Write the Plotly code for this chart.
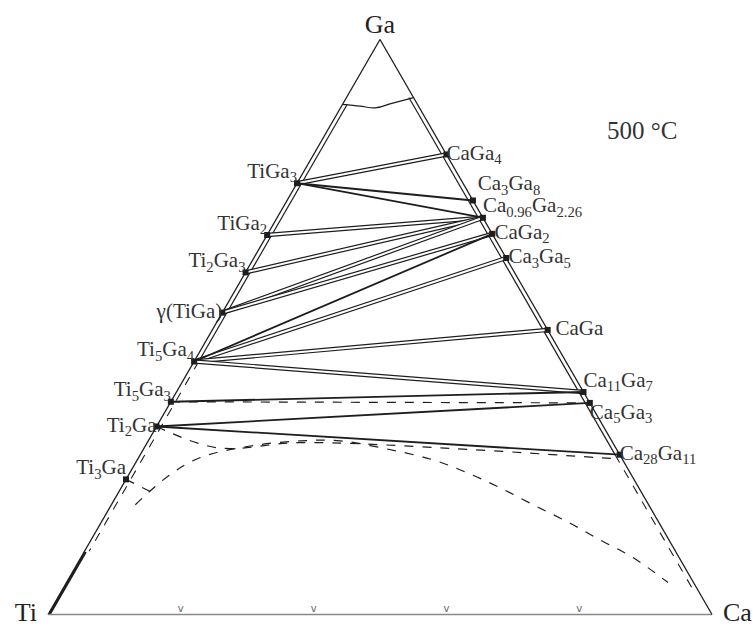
import plotly.graph_objects as go

# ---------------- data (atomic fractions) ----------------
# Ti–Ga binary phases: Ga fraction on the Ti–Ga edge
tiga_names = ["TiGa<sub>3</sub>", "TiGa<sub>2</sub>", "Ti<sub>2</sub>Ga<sub>3</sub>", "γ(TiGa)",
              "Ti<sub>5</sub>Ga<sub>4</sub>", "Ti<sub>5</sub>Ga<sub>3</sub>", "Ti<sub>2</sub>Ga", "Ti<sub>3</sub>Ga"]
tiga_ga = [0.75, 0.66, 0.595, 0.525, 0.44, 0.37, 0.327, 0.235]
tiga_textpos = ["top left", "top left", "top left", "middle left",
                "top left", "top left", "middle left", "top left"]

# Ca–Ga binary phases: Ga fraction on the Ca–Ga edge
caga_names = ["CaGa<sub>4</sub>", "Ca<sub>3</sub>Ga<sub>8</sub>", "Ca<sub>0.96</sub>Ga<sub>2.26</sub>",
              "CaGa<sub>2</sub>", "Ca<sub>3</sub>Ga<sub>5</sub>", "CaGa",
              "Ca<sub>11</sub>Ga<sub>7</sub>", "Ca<sub>5</sub>Ga<sub>3</sub>", "Ca<sub>28</sub>Ga<sub>11</sub>"]
caga_ga = [0.80, 0.72, 0.69, 0.662, 0.62, 0.495, 0.387, 0.368, 0.278]
caga_textpos = ["middle right", "top right", "top right", "middle right", "middle right",
                "middle right", "top right", "bottom right", "middle right"]
caga_label_pad = [0, 6, 0, 2, 2, 11, 0, 0, 0]   # invisible marker size = label padding

# tie lines: (index in Ti–Ga list, index in Ca–Ga list)
tie_double = [(0, 0), (1, 2), (2, 2), (3, 2), (3, 3), (4, 4), (4, 5), (4, 6)]
tie_single = [(0, 1), (0, 2), (4, 3), (5, 6), (6, 7), (6, 8)]
tie_dashed = [(5, 7)]

# liquid (Ga) boundary near the Ga corner
liq_ga = [0.887, 0.884, 0.881, 0.888, 0.899]
liq_ca = [0.0, 0.028, 0.052, 0.071, 0.101]

# dashed dome-shaped boundary
dome_ga = [0.191, 0.243, 0.273, 0.293, 0.302, 0.302, 0.288, 0.269, 0.2465, 0.2205,
           0.191, 0.1615, 0.130, 0.099, 0.0556]
dome_ca = [0.036, 0.062, 0.093, 0.158, 0.229, 0.289, 0.366, 0.445, 0.508, 0.5705,
           0.635, 0.701, 0.766, 0.8315, 0.906]

# dashed boundary from Ti2Ga towards Ca28Ga11
dashb_ga = [0.327, 0.290, 0.299, 0.289, 0.273, 0.271]
dashb_ca = [0.0, 0.110, 0.230, 0.460, 0.690, 0.720]

# short dashed line from Ti3Ga
ti3_ga = [0.235, 0.214]
ti3_ca = [0.0, 0.047]

ti_ss_limit = 0.11          # Ti solid solution up to this Ga fraction
base_ticks_ca = [0.2, 0.4, 0.6, 0.8]

# ---------------- styles ----------------
SIDE_GAP = 0.007
INK = "#1e1e1e"
FONT = "Liberation Serif"
LABEL_SIZE = 21


def tiga_pt(g):
    return (g, 1 - g, 0.0)


def caga_pt(g):
    return (g, 0.0, 1 - g)


fig = go.Figure()


def add_line(pts, color=INK, width=1.2, dash="solid", shape="linear", clip=True):
    fig.add_trace(go.Scatterternary(
        a=[p[0] for p in pts], b=[p[1] for p in pts], c=[p[2] for p in pts],
        mode="lines", line=dict(color=color, width=width, dash=dash, shape=shape),
        hoverinfo="skip", showlegend=False, cliponaxis=clip))


def add_double(pts):
    add_line(pts, INK, 4.4)
    add_line(pts, "white", 2.0)


# inner parallel lines of the sides
left_top = liq_ga[0]
right_top = liq_ga[-1]
add_line([(left_top, 1 - left_top - SIDE_GAP, SIDE_GAP), (tiga_ga[4], 1 - tiga_ga[4] - SIDE_GAP, SIDE_GAP)])
add_line([(tiga_ga[4], 1 - tiga_ga[4] - SIDE_GAP, SIDE_GAP), (ti_ss_limit, 1 - ti_ss_limit - SIDE_GAP, SIDE_GAP)],
         dash="dash", width=1.1)
add_line([(right_top, SIDE_GAP, 1 - right_top - SIDE_GAP), (caga_ga[-1], SIDE_GAP, 1 - caga_ga[-1] - SIDE_GAP)])
add_line([(caga_ga[-1], SIDE_GAP, 1 - caga_ga[-1] - SIDE_GAP), (0.043, SIDE_GAP, 1 - 0.043 - SIDE_GAP)],
         dash="dash", width=1.1)

# liquid boundary
add_line([(g, 1 - g - c, c) for g, c in zip(liq_ga, liq_ca)], width=1.2, shape="spline")

# tie lines
for i, j in tie_double:
    add_double([tiga_pt(tiga_ga[i]), caga_pt(caga_ga[j])])
for i, j in tie_single:
    add_line([tiga_pt(tiga_ga[i]), caga_pt(caga_ga[j])], width=1.8)
for i, j in tie_dashed:
    add_line([tiga_pt(tiga_ga[i]), caga_pt(caga_ga[j])], width=1.2, dash="dash")

# dashed boundaries
add_line([(g, 1 - g - c, c) for g, c in zip(dome_ga, dome_ca)], width=1.2, dash="dash", shape="spline")
add_line([(g, 1 - g - c, c) for g, c in zip(dashb_ga, dashb_ca)], width=1.2, dash="dash", shape="spline")
add_line([(g, 1 - g - c, c) for g, c in zip(ti3_ga, ti3_ca)], width=1.2, dash="dash")

# Ti solid solution (thick)
add_line([(0.0, 1.0, 0.0), tiga_pt(ti_ss_limit)], width=5, clip=False)

# phase markers
fig.add_trace(go.Scatterternary(
    a=tiga_ga + caga_ga,
    b=[1 - g for g in tiga_ga] + [0] * len(caga_ga),
    c=[0] * len(tiga_ga) + [1 - g for g in caga_ga],
    mode="markers", marker=dict(symbol="square", size=6, color=INK),
    hoverinfo="skip", showlegend=False, cliponaxis=False))

# phase labels (anchored on the phase composition)
fig.add_trace(go.Scatterternary(
    a=tiga_ga, b=[1 - g for g in tiga_ga], c=[0] * len(tiga_ga),
    mode="text", text=tiga_names, textposition=tiga_textpos,
    textfont=dict(family=FONT, size=LABEL_SIZE, color="#333"),
    hoverinfo="skip", showlegend=False, cliponaxis=False))
fig.add_trace(go.Scatterternary(
    a=caga_ga, b=[0] * len(caga_ga), c=[1 - g for g in caga_ga],
    mode="markers+text", text=caga_names, textposition=caga_textpos,
    marker=dict(size=caga_label_pad, opacity=0, color="white"),
    textfont=dict(family=FONT, size=LABEL_SIZE, color="#333"),
    hoverinfo="skip", showlegend=False, cliponaxis=False))

# corner labels
fig.add_trace(go.Scatterternary(
    a=[1], b=[0], c=[0], mode="text", text=["Ga"], textposition="top center",
    textfont=dict(family=FONT, size=26, color="#222"),
    hoverinfo="skip", showlegend=False, cliponaxis=False))
fig.add_trace(go.Scatterternary(
    a=[0, 0], b=[1, 0], c=[0, 1], mode="markers+text",
    text=["Ti", "Ca"], textposition=["middle left", "middle right"],
    marker=dict(size=16, opacity=0),
    textfont=dict(family=FONT, size=26, color="#222"),
    hoverinfo="skip", showlegend=False, cliponaxis=False))

# base tick marks
fig.add_trace(go.Scatterternary(
    a=[0] * len(base_ticks_ca), b=[1 - c for c in base_ticks_ca], c=base_ticks_ca,
    mode="text", text=["v"] * len(base_ticks_ca), textposition="top center",
    textfont=dict(family="DejaVu Sans", size=10, color="#666"),
    hoverinfo="skip", showlegend=False, cliponaxis=False))

axis_common = dict(showticklabels=False, ticks="", showgrid=False, title=dict(text=""),
                   linewidth=1.3, linecolor=INK, min=0)
fig.update_layout(
    width=753, height=627,
    margin=dict(l=0, r=0, t=0, b=0),
    paper_bgcolor="white",
    ternary=dict(
        domain=dict(x=[48 / 753, 712 / 753], y=[12 / 627, 588 / 627]),
        bgcolor="white",
        aaxis=axis_common,
        baxis={**axis_common, "linecolor": "#888", "linewidth": 1.6},
        caxis=axis_common,
    ),
    annotations=[dict(text="500 °C", x=642 / 753, y=1 - 130 / 627, xref="paper", yref="paper",
                      xanchor="center", yanchor="middle",
                      showarrow=False, font=dict(family=FONT, size=25, color="#333"))],
)

fig.write_html("out.html", config={"displayModeBar": False},
               post_script="document.body.style.margin='0';")
